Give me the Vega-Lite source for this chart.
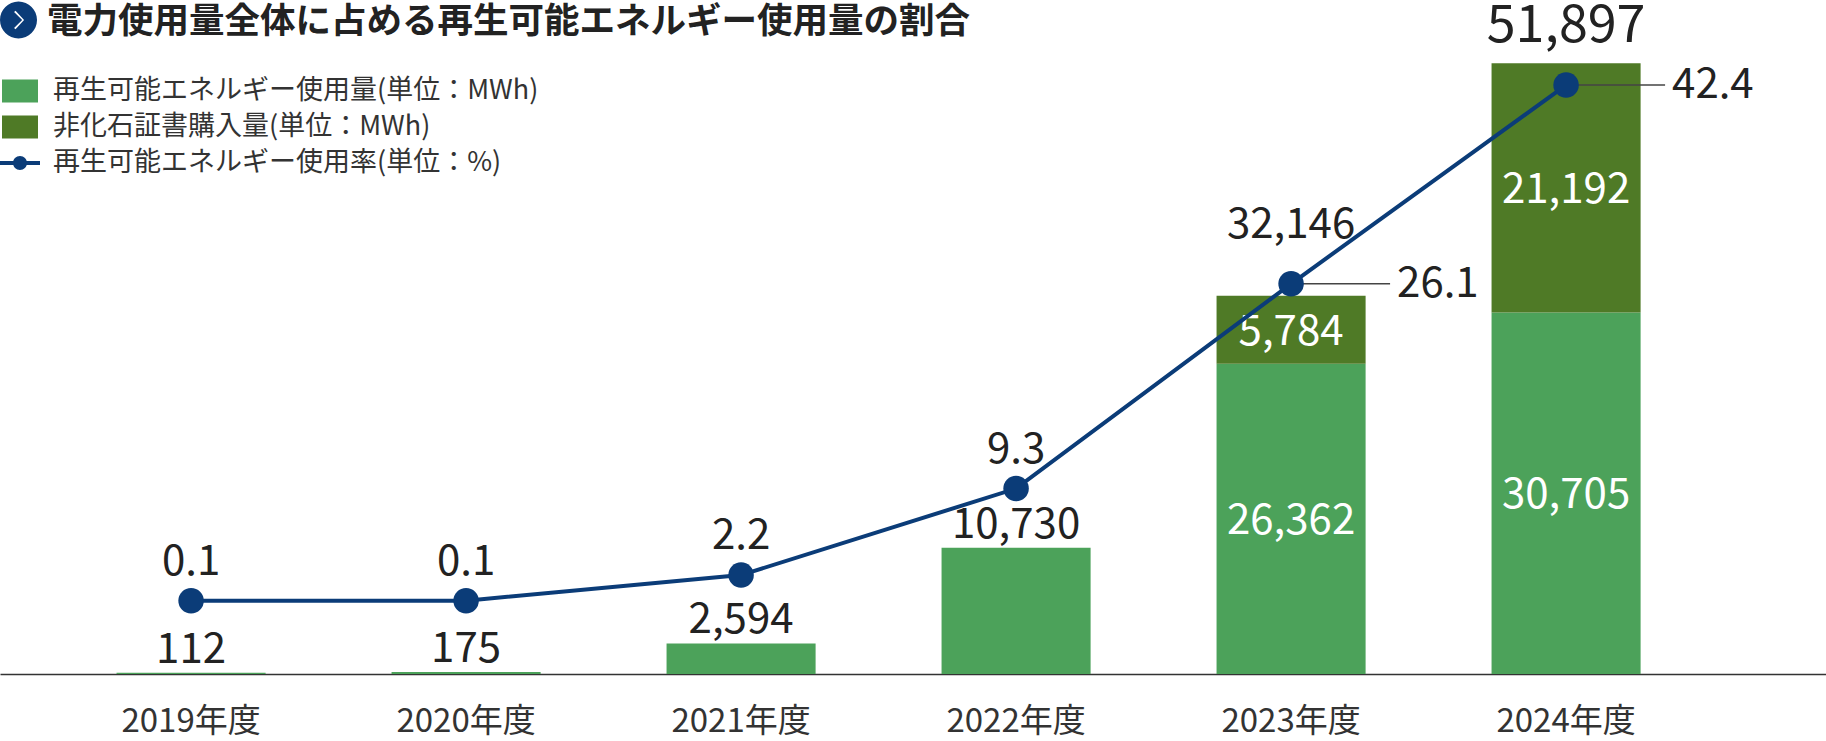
{
  "$schema": "https://vega.github.io/schema/vega-lite/v6.json",
  "width": 1826,
  "height": 624,
  "autosize": {"type": "none"},
  "padding": {"left": 0, "top": 50, "right": 0, "bottom": 67},
  "background": "white",
  "title": {
    "text": "電力使用量全体に占める再生可能エネルギー使用量の割合",
    "font": "Noto Sans CJK JP",
    "fontWeight": "bold",
    "fontSize": 35.5,
    "color": "#222222",
    "anchor": "start",
    "frame": "group",
    "dx": 47,
    "offset": -40
  },
  "datasets": {
    "bars": [
      {"year": "2019年度", "series": "再生可能エネルギー使用量(単位：MWh)", "value": 112, "ord": 1},
      {"year": "2020年度", "series": "再生可能エネルギー使用量(単位：MWh)", "value": 175, "ord": 1},
      {"year": "2021年度", "series": "再生可能エネルギー使用量(単位：MWh)", "value": 2594, "ord": 1},
      {"year": "2022年度", "series": "再生可能エネルギー使用量(単位：MWh)", "value": 10730, "ord": 1},
      {"year": "2023年度", "series": "再生可能エネルギー使用量(単位：MWh)", "value": 26362, "ord": 1},
      {"year": "2023年度", "series": "非化石証書購入量(単位：MWh)", "value": 5784, "ord": 2},
      {"year": "2024年度", "series": "再生可能エネルギー使用量(単位：MWh)", "value": 30705, "ord": 1},
      {"year": "2024年度", "series": "非化石証書購入量(単位：MWh)", "value": 21192, "ord": 2}
    ],
    "rates": [
      {"year": "2019年度", "rate": 0.1},
      {"year": "2020年度", "rate": 0.1},
      {"year": "2021年度", "rate": 2.2},
      {"year": "2022年度", "rate": 9.3},
      {"year": "2023年度", "rate": 26.1},
      {"year": "2024年度", "rate": 42.4}
    ]
  },
  "layer": [
    {
      "data": {"name": "bars"},
      "mark": {"type": "bar"},
      "encoding": {
        "x": {
          "field": "year", "type": "nominal", "sort": null,
          "scale": {"paddingInner": 0.458, "paddingOuter": 0.549, "align": 0.386},
          "axis": {
            "title": null, "labelAngle": 0, "ticks": false, "grid": false,
            "domainColor": "#333333", "domainWidth": 1.5,
            "labelFont": "Noto Sans CJK JP", "labelFontSize": 33, "labelColor": "#333333",
            "labelPadding": 31
          }
        },
        "y": {
          "field": "value", "type": "quantitative", "stack": "zero",
          "scale": {"domain": [0, 53016], "nice": false}, "axis": null
        },
        "fill": {
          "field": "series", "type": "nominal",
          "scale": {
            "domain": ["再生可能エネルギー使用量(単位：MWh)", "非化石証書購入量(単位：MWh)"],
            "range": ["#4ca25a", "#4f7a26"]
          },
          "legend": null
        },
        "order": {"field": "ord", "type": "quantitative"}
      }
    },
    {
      "data": {"name": "bars"},
      "transform": [{"filter": {"field": "year", "oneOf": ["2019年度", "2020年度", "2021年度", "2022年度"]}}],
      "mark": {"type": "text", "font": "Noto Sans CJK JP", "fontSize": 42, "color": "#222222", "baseline": "alphabetic", "dy": -10},
      "encoding": {
        "x": {"field": "year", "type": "nominal", "sort": null},
        "y": {"field": "value", "type": "quantitative", "stack": null, "scale": {"domain": [0, 53016], "nice": false}, "axis": null},
        "text": {"field": "value", "type": "quantitative", "format": ","}
      }
    },
    {
      "data": {"name": "bars"},
      "transform": [
        {"filter": {"field": "year", "oneOf": ["2023年度", "2024年度"]}},
        {"stack": "value", "groupby": ["year"], "sort": [{"field": "ord", "order": "ascending"}], "as": ["v0", "v1"]},
        {"fold": ["v0", "v1"], "as": ["edge", "pos"]},
        {"stack": "pos", "groupby": ["year", "series"], "sort": [{"field": "edge", "order": "ascending"}], "as": ["p0", "p1"]},
        {"filter": {"field": "edge", "equal": "v1"}}
      ],
      "mark": {"type": "text", "font": "Noto Sans CJK JP", "fontSize": 42, "color": "white", "baseline": "middle", "dy": 2},
      "encoding": {
        "x": {"field": "year", "type": "nominal", "sort": null},
        "y": {"field": "p1", "type": "quantitative", "stack": null, "scale": {"domain": [0, 106032], "nice": false}, "axis": null},
        "text": {"field": "value", "type": "quantitative", "format": ","}
      }
    },
    {
      "data": {"name": "bars"},
      "transform": [
        {"aggregate": [{"op": "sum", "field": "value", "as": "total"}], "groupby": ["year"]},
        {"filter": {"field": "year", "equal": "2023年度"}}
      ],
      "mark": {"type": "text", "font": "Noto Sans CJK JP", "fontSize": 42, "color": "#222222", "baseline": "alphabetic", "dy": -58},
      "encoding": {
        "x": {"field": "year", "type": "nominal", "sort": null},
        "y": {"field": "total", "type": "quantitative", "scale": {"domain": [0, 53016], "nice": false}, "axis": null},
        "text": {"field": "total", "type": "quantitative", "format": ","}
      }
    },
    {
      "data": {"name": "bars"},
      "transform": [
        {"aggregate": [{"op": "sum", "field": "value", "as": "total"}], "groupby": ["year"]},
        {"filter": {"field": "year", "equal": "2024年度"}}
      ],
      "mark": {"type": "text", "font": "Noto Sans CJK JP", "fontSize": 52, "color": "#222222", "baseline": "alphabetic", "dy": -21},
      "encoding": {
        "x": {"field": "year", "type": "nominal", "sort": null},
        "y": {"field": "total", "type": "quantitative", "scale": {"domain": [0, 53016], "nice": false}, "axis": null},
        "text": {"field": "total", "type": "quantitative", "format": ","}
      }
    },
    {
      "data": {"name": "rates"},
      "transform": [{"filter": {"field": "year", "oneOf": ["2023年度", "2024年度"]}}],
      "mark": {"type": "rule", "color": "#444444", "strokeWidth": 1.5, "x2Offset": 99},
      "encoding": {
        "x": {"field": "year", "type": "nominal", "sort": null},
        "x2": {"field": "year"},
        "y": {"field": "rate", "type": "quantitative", "scale": {"domain": [-5.915, 45.28], "nice": false, "zero": false}, "axis": null}
      }
    },
    {
      "data": {"name": "rates"},
      "mark": {"type": "line", "color": "#0b3c78", "strokeWidth": 4},
      "encoding": {
        "x": {"field": "year", "type": "nominal", "sort": null},
        "y": {"field": "rate", "type": "quantitative", "scale": {"domain": [-5.915, 45.28], "nice": false, "zero": false}, "axis": null}
      }
    },
    {
      "data": {"name": "rates"},
      "mark": {"type": "point", "filled": true, "opacity": 1, "size": 650, "color": "#0b3c78"},
      "encoding": {
        "x": {"field": "year", "type": "nominal", "sort": null},
        "y": {"field": "rate", "type": "quantitative", "scale": {"domain": [-5.915, 45.28], "nice": false, "zero": false}, "axis": null}
      }
    },
    {
      "data": {"name": "rates"},
      "transform": [{"filter": {"field": "year", "oneOf": ["2019年度", "2020年度", "2021年度", "2022年度"]}}],
      "mark": {"type": "text", "font": "Noto Sans CJK JP", "fontSize": 42, "color": "#222222", "baseline": "alphabetic", "dy": -26},
      "encoding": {
        "x": {"field": "year", "type": "nominal", "sort": null},
        "y": {"field": "rate", "type": "quantitative", "scale": {"domain": [-5.915, 45.28], "nice": false, "zero": false}, "axis": null},
        "text": {"field": "rate", "type": "quantitative", "format": ".1f"}
      }
    },
    {
      "data": {"name": "rates"},
      "transform": [{"filter": {"field": "year", "oneOf": ["2023年度", "2024年度"]}}],
      "mark": {"type": "text", "font": "Noto Sans CJK JP", "fontSize": 42, "color": "#222222", "align": "left", "baseline": "middle", "dx": 106},
      "encoding": {
        "x": {"field": "year", "type": "nominal", "sort": null},
        "y": {"field": "rate", "type": "quantitative", "scale": {"domain": [-5.915, 45.28], "nice": false, "zero": false}, "axis": null},
        "text": {"field": "rate", "type": "quantitative", "format": ".1f"}
      }
    },
    {
      "data": {"name": "rates"},
      "transform": [{"filter": "false"}],
      "mark": {"type": "point", "filled": true, "opacity": 1},
      "encoding": {
        "color": {
          "field": "series", "type": "nominal",
          "scale": {
            "domain": ["再生可能エネルギー使用量(単位：MWh)", "非化石証書購入量(単位：MWh)", "再生可能エネルギー使用率(単位：%)"],
            "range": ["#4ca25a", "#4f7a26", "#0b3c78"]
          },
          "legend": {
            "title": null, "orient": "none", "legendX": 0, "legendY": 21, "padding": 0,
            "symbolSize": 1600, "symbolStrokeWidth": 0, "symbolOpacity": 1,
            "labelFont": "Noto Sans CJK JP", "labelFontSize": 27, "labelColor": "#333333",
            "labelOffset": 13, "rowPadding": 3, "labelLimit": 800
          }
        },
        "shape": {
          "field": "series", "type": "nominal",
          "scale": {
            "domain": ["再生可能エネルギー使用量(単位：MWh)", "非化石証書購入量(単位：MWh)", "再生可能エネルギー使用率(単位：%)"],
            "range": [
              "M-0.9,-0.575L0.9,-0.575L0.9,0.575L-0.9,0.575Z",
              "M-0.9,-0.575L0.9,-0.575L0.9,0.575L-0.9,0.575Z",
              "M-1,-0.1L1,-0.1L1,0.1L-1,0.1Z M0.35,0A0.35,0.35 0 1,1 -0.35,0A0.35,0.35 0 1,1 0.35,0Z"
            ]
          },
          "legend": {
            "title": null, "orient": "none", "legendX": 0, "legendY": 21, "padding": 0,
            "symbolSize": 1600, "symbolStrokeWidth": 0, "symbolOpacity": 1,
            "labelFont": "Noto Sans CJK JP", "labelFontSize": 27, "labelColor": "#333333",
            "labelOffset": 13, "rowPadding": 3, "labelLimit": 800
          }
        }
      }
    },
    {
      "data": {"name": "rates"},
      "transform": [{"filter": "false"}],
      "mark": {"type": "point", "filled": true, "color": "#0b3c78"},
      "encoding": {
        "opacity": {
          "field": "icon", "type": "nominal",
          "scale": {"type": "ordinal", "domain": ["icon"], "range": [1]},
          "legend": {
            "title": null, "orient": "none", "legendX": 0, "legendY": -48.5, "padding": 0,
            "symbolType": "M1,0A1,1 0 1,1 -1,0A1,1 0 1,1 1,0Z M-0.16,-0.5L-0.24,-0.43L0.2,0L-0.24,0.43L-0.16,0.5L0.3,0Z",
            "symbolSize": 1369,
            "symbolFillColor": "#0b3c78", "symbolStrokeWidth": 0,
            "labelExpr": "''", "labelOffset": 0
          }
        }
      }
    }
  ],
  "resolve": {"scale": {"y": "independent"}},
  "config": {
    "view": {"stroke": null},
    "axis": {"grid": false}
  }
}
